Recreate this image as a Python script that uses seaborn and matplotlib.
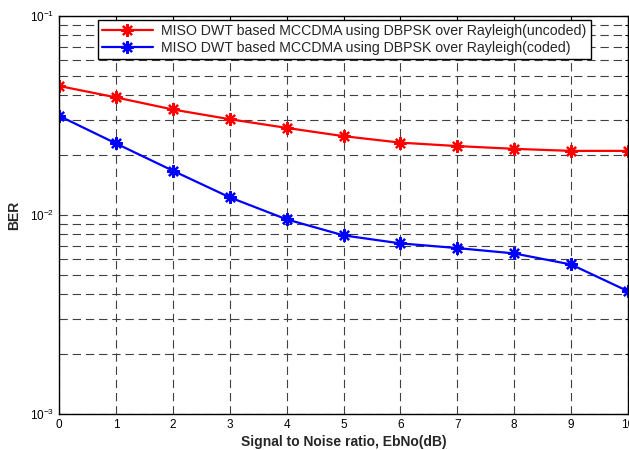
import numpy as np
import pandas as pd
import matplotlib
matplotlib.use("Agg")
import matplotlib.pyplot as plt
import seaborn as sns
from matplotlib.ticker import LogLocator, NullFormatter

ebno = [0, 1, 2, 3, 4, 5, 6, 7, 8, 9, 10]
ber_uncoded = [0.0445, 0.0390, 0.0339, 0.0303, 0.0274, 0.0249, 0.0231,
               0.0222, 0.0215, 0.0210, 0.0210]
ber_coded = [0.0315, 0.0229, 0.0167, 0.01227, 0.00951, 0.0079, 0.0072,
             0.00682, 0.00641, 0.00564, 0.00414]
labels = ["MISO DWT based MCCDMA using DBPSK over Rayleigh(uncoded)",
          "MISO DWT based MCCDMA using DBPSK over Rayleigh(coded)"]
colors = ["#ff0000", "#0000ff"]

df = pd.DataFrame({
    "EbNo": ebno * 2,
    "BER": ber_uncoded + ber_coded,
    "series": [labels[0]] * len(ebno) + [labels[1]] * len(ebno),
})

sns.set_style("white")
plt.rcParams["font.family"] = ["Liberation Sans", "DejaVu Sans"]
plt.rcParams["lines.scale_dashes"] = False

fig = plt.figure(figsize=(6.29, 4.5), dpi=100)
ax = fig.add_axes([59 / 629, 1 - 414 / 450, (628 - 59) / 629, (414 - 16) / 450])

star = (8, 2, 0)  # asterisk, like MATLAB '*'
for lab, col in zip(labels, colors):
    sns.lineplot(data=df[df["series"] == lab], x="EbNo", y="BER",
                 color=col, marker=star, markersize=9,
                 markeredgecolor=col, markeredgewidth=1.6,
                 linewidth=1.6, ax=ax, label=lab, legend=False)

ax.set_yscale("log")
ax.set_xlim(0, 10)
ax.set_ylim(1e-3, 1e-1)
ax.set_xticks(range(0, 11))
ax.yaxis.set_major_locator(LogLocator(base=10, numticks=10))
ax.yaxis.set_minor_locator(LogLocator(base=10, subs=np.arange(2, 10), numticks=20))
ax.yaxis.set_minor_formatter(NullFormatter())

grid_ls = (0, (6, 3.5))
ax.grid(True, which="major", axis="both", color="0.25", linestyle=grid_ls, linewidth=0.8)
ax.grid(True, which="minor", axis="y", color="0.25", linestyle=grid_ls, linewidth=0.8)
ax.set_axisbelow(True)

for side in ["left", "bottom", "top", "right"]:
    ax.spines[side].set_visible(True)
    ax.spines[side].set_color("black")
    ax.spines[side].set_linewidth(1.0)

ax.tick_params(which="both", direction="in", top=True, right=True,
               labelsize=8.5, colors="black", length=4, width=0.8)
ax.tick_params(which="minor", length=2)

ax.set_xlabel("Signal to Noise ratio, EbNo(dB)", fontsize=10, fontweight="bold", labelpad=3)
ax.set_ylabel("BER", fontsize=10, fontweight="bold", labelpad=6)

handles = [plt.Line2D([], [], color=c, marker=star, markersize=9,
                      markeredgecolor=c, markeredgewidth=1.6, linewidth=1.6)
           for c in colors]
leg = ax.legend(handles, labels, loc="upper right",
                bbox_to_anchor=(591 / 629, 1 - 20 / 450),
                bbox_transform=fig.transFigure, fontsize=10.2,
                frameon=True, fancybox=False, framealpha=1,
                edgecolor="black", handlelength=3.6, borderpad=0.3,
                labelspacing=0.2, handletextpad=0.6, borderaxespad=0)
leg.get_frame().set_linewidth(1.0)

fig.savefig("out.png", dpi=100)
